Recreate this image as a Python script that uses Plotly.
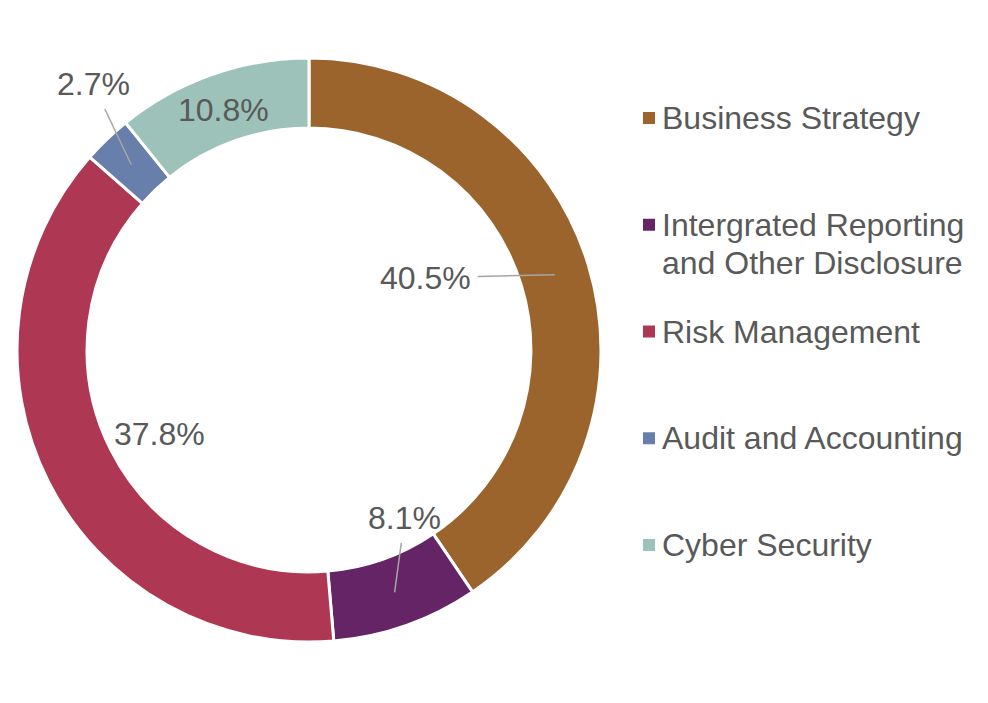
import math

import plotly.graph_objects as go

# data (share of topics, %)
categories = [
    "Business Strategy",
    "Intergrated Reporting<br>and Other Disclosure",
    "Risk Management",
    "Audit and Accounting",
    "Cyber Security",
]
shares = [40.5, 8.1, 37.8, 2.7, 10.8]
label_text = ["40.5%", "8.1%", "37.8%", "2.7%", "10.8%"]
colors = ["#9B642D", "#642466", "#AE3753", "#687FAB", "#9CC2BA"]

PAGE_PAD = 8               # default body margin of the html page
W, H = 988 - PAGE_PAD, 703 - PAGE_PAD
CX, CY = 309, 350          # donut centre in screen px
R_OUT = 292
HOLE = 0.76
R_MID = R_OUT * (1 + HOLE) / 2
TEXT = "#595959"
FONT = "Liberation Sans, Arial, sans-serif"
FONT_SIZE = 32

# label placement per slice: (use leader line, dx px, dy px)
label_style = [
    (True, -129, 3),
    (True, 10, -74),
    (False, 80, -32),
    (True, -38, -80),
    (False, 0, 2),
]


def px_to_paper(x, y):
    return (x - PAGE_PAD) / W, 1 - (y - PAGE_PAD) / H


dx0, dy1 = px_to_paper(CX - R_OUT, CY - R_OUT)
dx1, dy0 = px_to_paper(CX + R_OUT, CY + R_OUT)

fig = go.Figure(
    go.Pie(
        labels=categories,
        values=shares,
        sort=False,
        direction="clockwise",
        rotation=0,
        hole=HOLE,
        textinfo="none",
        hoverinfo="label+percent",
        marker=dict(colors=colors, line=dict(color="white", width=3)),
        domain=dict(x=[dx0, dx1], y=[dy0, dy1]),
        showlegend=False,
    )
)

# slice labels, anchored at the mid-ring point of each slice
total = sum(shares)
cum = 0.0
annotations = []
for val, txt, (line, dx, dy) in zip(shares, label_text, label_style):
    ang = math.radians((cum + val / 2) / total * 360)
    cum += val
    ax_px = CX + R_MID * math.sin(ang)
    ay_px = CY - R_MID * math.cos(ang)
    px, py = px_to_paper(ax_px, ay_px)
    common = dict(
        x=px, y=py, xref="paper", yref="paper", text=txt,
        font=dict(family=FONT, size=FONT_SIZE, color=TEXT),
    )
    if line:
        annotations.append(dict(
            **common, showarrow=True, arrowhead=0, arrowwidth=1.5,
            arrowcolor="#A6A6A6", ax=dx, ay=dy, standoff=0, borderpad=6,
        ))
    else:
        annotations.append(dict(
            **common, showarrow=False, xanchor="center", yanchor="middle",
            xshift=dx, yshift=-dy,
        ))

# legend drawn by hand so the entries can be spread like the original
shapes = []
LEG_X, LEG_Y0, LEG_STEP, SQ, LINE_H = 643, 118, 106.75, 12, 38
for i, (name, col) in enumerate(zip(categories, colors)):
    ym = LEG_Y0 + i * LEG_STEP
    x0, y0 = px_to_paper(LEG_X, ym + SQ / 2)
    x1, y1 = px_to_paper(LEG_X + SQ, ym - SQ / 2)
    shapes.append(dict(type="rect", xref="paper", yref="paper",
                       x0=x0, y0=y0, x1=x1, y1=y1,
                       fillcolor=col, line=dict(width=0)))
    for k, part in enumerate(name.split("<br>")):
        tx, ty = px_to_paper(LEG_X + 17, ym + k * LINE_H)
        annotations.append(dict(
            x=tx, y=ty, xref="paper", yref="paper", text=part, showarrow=False,
            xanchor="left", yanchor="middle", align="left",
            font=dict(family=FONT, size=FONT_SIZE, color=TEXT),
        ))

fig.update_layout(
    width=W,
    height=H,
    margin=dict(l=0, r=0, t=0, b=0),
    paper_bgcolor="white",
    plot_bgcolor="white",
    annotations=annotations,
    shapes=shapes,
)

fig.write_html("out.html")
